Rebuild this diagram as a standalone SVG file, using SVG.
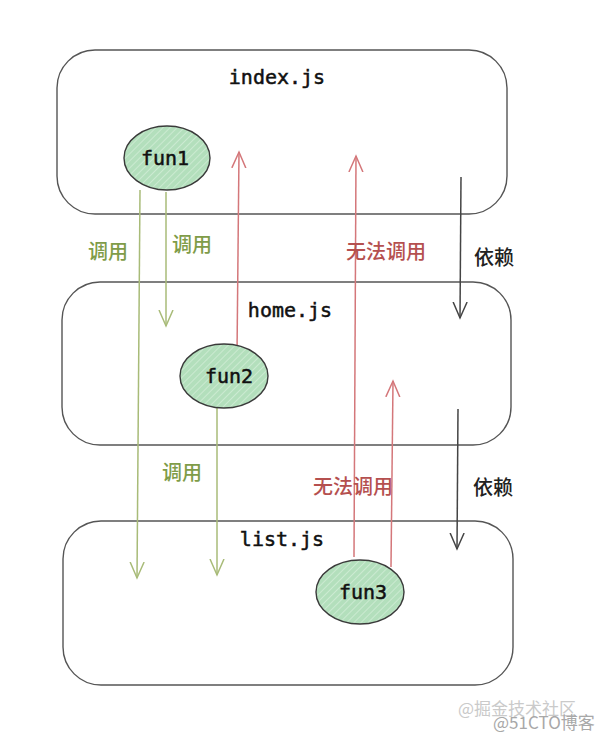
<svg xmlns="http://www.w3.org/2000/svg" width="602" height="740" viewBox="0 0 602 740">
<style>
.box{fill:none;stroke:#555;stroke-width:1.4}
.fn{fill:url(#hatch);stroke:#3a3a3a;stroke-width:1.4}
.mono{font-family:"DejaVu Sans Mono","Liberation Mono",monospace;font-size:20px;fill:#111;stroke:#111;stroke-width:0.5;text-anchor:middle}
.cjk{font-family:"Noto Sans CJK SC","Noto Sans",sans-serif;font-size:20px;font-weight:500}
.g{fill:#7f9c48}
.r{fill:#b5504f}
.k{fill:#222}
.lg{stroke:#a8bb78;stroke-width:1.5;fill:none}
.lr{stroke:#d4777a;stroke-width:1.5;fill:none}
.lk{stroke:#444;stroke-width:1.5;fill:none}
.wm{font-family:"Noto Sans CJK SC","Liberation Sans",sans-serif;font-size:17px}
</style>
<defs>
<pattern id="hatch" width="5" height="5" patternUnits="userSpaceOnUse" patternTransform="rotate(45)">
<rect width="5" height="5" fill="#b3dfbc"/>
<line x1="0" y1="0" x2="0" y2="5" stroke="#d3eed8" stroke-width="1.5"/>
</pattern>
<marker id="ag" markerUnits="userSpaceOnUse" markerWidth="20" markerHeight="20" refX="16" refY="7" orient="auto" viewBox="0 0 20 14">
<path d="M0,0 L16,7 L0,14" fill="none" stroke="#a8bb78" stroke-width="1.5"/>
</marker>
<marker id="ar" markerUnits="userSpaceOnUse" markerWidth="20" markerHeight="20" refX="16" refY="7" orient="auto" viewBox="0 0 20 14">
<path d="M0,0 L16,7 L0,14" fill="none" stroke="#d4777a" stroke-width="1.5"/>
</marker>
<marker id="ak" markerUnits="userSpaceOnUse" markerWidth="20" markerHeight="20" refX="16" refY="7" orient="auto" viewBox="0 0 20 14">
<path d="M0,0 L16,7 L0,14" fill="none" stroke="#444" stroke-width="1.5"/>
</marker>
</defs>
<rect width="602" height="740" fill="#fff"/>
<g id="index">
<rect class="box" x="57" y="50" width="450" height="164" rx="38"/>
<text class="mono" x="277" y="84">index.js</text>
</g>
<g id="home">
<rect class="box" x="62" y="282" width="449" height="163" rx="38"/>
<text class="mono" x="290" y="317">home.js</text>
</g>
<g id="list">
<rect class="box" x="63" y="521" width="450" height="164" rx="38"/>
<text class="mono" x="282" y="546">list.js</text>
</g>
<g id="connectors">
<path class="lg" d="M140,190 L137,578" marker-end="url(#ag)"/>
<path class="lg" d="M166,192 L166,326" marker-end="url(#ag)"/>
<path class="lg" d="M217,408 L217,575" marker-end="url(#ag)"/>
<path class="lr" d="M237,355 L239,152" marker-end="url(#ar)"/>
<path class="lr" d="M354,557 L356,156" marker-end="url(#ar)"/>
<path class="lr" d="M391,567 L393,381" marker-end="url(#ar)"/>
<path class="lk" d="M461,177 L460,318" marker-end="url(#ak)"/>
<path class="lk" d="M458,409 L457,549" marker-end="url(#ak)"/>
<text class="cjk g" x="88" y="259">调用</text>
<text class="cjk g" x="172" y="252">调用</text>
<text class="cjk r" x="346" y="259">无法调用</text>
<text class="cjk k" x="474" y="265">依赖</text>
<text class="cjk g" x="162" y="480">调用</text>
<text class="cjk r" x="313" y="494">无法调用</text>
<text class="cjk k" x="473" y="495">依赖</text>
</g>
<g id="fun1">
<ellipse class="fn" cx="167" cy="158" rx="43" ry="32"/>
<text class="mono" x="165" y="165">fun1</text>
</g>
<g id="fun2">
<ellipse class="fn" cx="224" cy="376" rx="44" ry="32"/>
<text class="mono" x="229" y="383">fun2</text>
</g>
<g id="fun3">
<ellipse class="fn" cx="360" cy="592" rx="44" ry="32"/>
<text class="mono" x="363" y="599">fun3</text>
</g>
<g id="watermark">
<text class="wm" x="458" y="715" fill="#cacaca">@掘金技术社区</text>
<text class="wm" x="493" y="729" fill="#a8a8a8">@51CTO博客</text>
</g>
</svg>
